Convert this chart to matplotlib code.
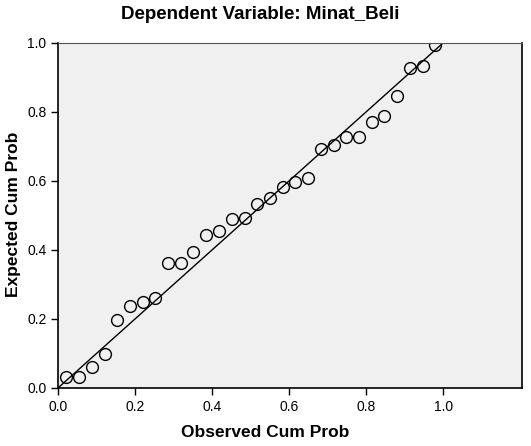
import matplotlib.pyplot as plt

plt.rcParams['font.family'] = ['Liberation Sans', 'DejaVu Sans']

observed = [0.020, 0.054, 0.087, 0.120, 0.152, 0.186, 0.219, 0.252, 0.286, 0.318,
            0.351, 0.384, 0.417, 0.450, 0.484, 0.516, 0.549, 0.583, 0.616, 0.649,
            0.682, 0.716, 0.748, 0.780, 0.815, 0.847, 0.880, 0.914, 0.947, 0.979]
expected = [0.030, 0.030, 0.061, 0.098, 0.195, 0.236, 0.248, 0.261, 0.361, 0.361,
            0.394, 0.442, 0.455, 0.490, 0.493, 0.532, 0.549, 0.583, 0.595, 0.607,
            0.692, 0.703, 0.727, 0.727, 0.769, 0.788, 0.846, 0.927, 0.933, 0.992]
ticks = [0.0, 0.2, 0.4, 0.6, 0.8, 1.0]

fig = plt.figure(figsize=(5.31, 4.46), dpi=100)
ax = fig.add_axes([0.1098, 0.1307, 0.8738, 0.7736])
ax.set_facecolor('#f0f0f0')

ax.plot([0, 1], [0, 1], color='black', linewidth=1.0)
ax.plot(observed, expected, linestyle='none', marker='o', markersize=8.5,
        markerfacecolor='none', markeredgecolor='black', markeredgewidth=1.0)

ax.set_xlim(0, 1.205)
ax.set_ylim(0, 1.0)
ax.set_xticks(ticks)
ax.set_yticks(ticks)
ax.set_xticklabels([f"{t:.1f}" for t in ticks])
ax.set_yticklabels([f"{t:.1f}" for t in ticks])
ax.tick_params(direction='out', length=5, width=1, labelsize=10, colors='black')

for side in ['left', 'bottom', 'right']:
    ax.spines[side].set_linewidth(1.2)
ax.spines['top'].set_linewidth(0.8)
ax.spines['top'].set_color('#555555')

fig.text(0.49, 0.968, "Dependent Variable: Minat_Beli", ha='center', va='center',
         fontsize=13.5, fontweight='bold')
fig.text(0.5, 0.03, "Observed Cum Prob", ha='center', va='center',
         fontsize=12.5, fontweight='bold')
fig.text(0.025, 0.52, "Expected Cum Prob", ha='center', va='center',
         rotation=90, fontsize=12.5, fontweight='bold')

fig.savefig('out.png', dpi=100)
